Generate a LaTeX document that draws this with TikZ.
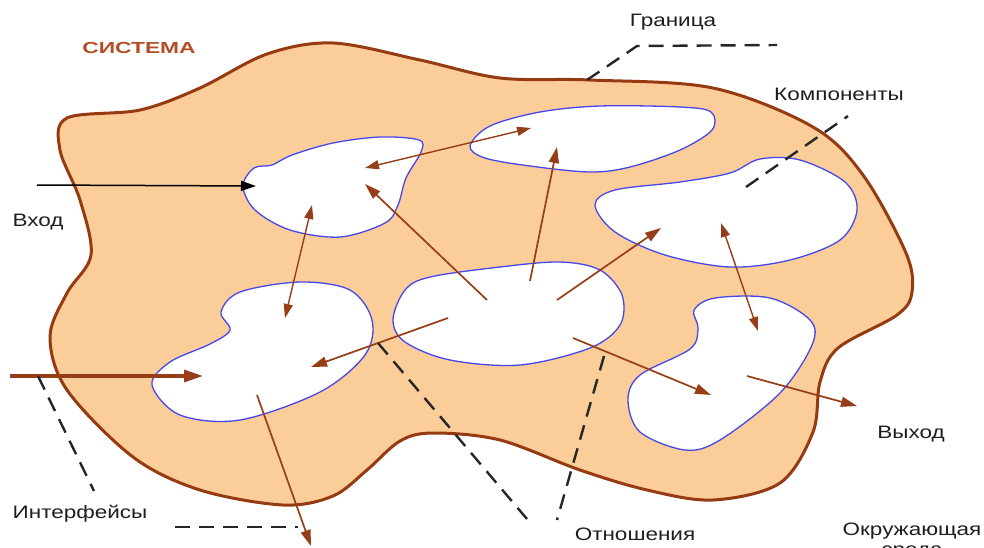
\documentclass[tikz,border=0pt]{standalone}
\usepackage{fontspec}
\setmainfont{Liberation Sans}
\usetikzlibrary{arrows.meta}
\definecolor{peach}{RGB}{251,205,152}
\definecolor{sysbrown}{RGB}{150,58,18}
\definecolor{arrbrown}{RGB}{150,62,24}
\definecolor{blobblue}{RGB}{70,70,235}
\definecolor{titlecol}{RGB}{180,78,40}
\definecolor{txt}{RGB}{30,30,30}
\begin{document}
\begin{tikzpicture}[x=1pt,y=-1pt,
  sysline/.style={draw=sysbrown,line width=3pt,fill=peach},
  blob/.style={draw=blobblue,line width=1.3pt,fill=white},
  rel/.style={draw=arrbrown,line width=1.7pt,-{Triangle[length=16pt,width=10pt]}},
  relboth/.style={draw=arrbrown,line width=1.4pt,{Triangle[length=14pt,width=9pt]}-{Triangle[length=14pt,width=9pt]}},
  thickin/.style={draw=arrbrown,line width=3.2pt,-{Triangle[length=19pt,width=12pt]}},
  blackin/.style={draw=black,line width=1.5pt,-{Triangle[length=15pt,width=10pt]}},
  lead/.style={draw=black!85,line width=2.4pt,dash pattern=on 15pt off 9pt},
  lbl/.style={text=txt,font=\fontsize{18}{20}\selectfont,xscale=1.25,inner sep=0pt}
]
\useasboundingbox (0,0) rectangle (984,547);
\clip (0,0) rectangle (984,547);

% system boundary
\path[sysline] plot[smooth cycle,tension=0.55] coordinates {
 (67,118) (140,110) (200,88) (267,54) (333,43) (420,60) (500,78) (590,80)
 (713,88) (813,127) (863,175) (906,253) (912,292) (897,315) (838,348)
 (820,382) (813,432) (780,483) (713,500) (647,490) (580,470) (500,440)
 (433,433) (400,441) (367,470) (333,496) (283,505) (200,490) (133,457)
 (67,390) (50,337) (67,293) (91,255) (80,200) (60,150)};

% components
\path[blob] plot[smooth cycle,tension=0.55] coordinates {
 (243,186) (254,168) (272,165) (292,155) (333,143) (380,137) (419,140)
 (421,152) (406,178) (398,205) (385,223) (340,237) (290,230) (255,210)};
\path[blob] plot[smooth cycle,tension=0.55] coordinates {
 (470,146) (490,126) (540,112) (600,106) (680,107) (711,112) (712,130)
 (680,150) (630,167) (590,172) (530,166) (485,158)};
\path[blob] plot[smooth cycle,tension=0.55] coordinates {
 (595,205) (615,190) (680,182) (730,173) (760,159) (800,160) (845,182)
 (857,210) (840,240) (790,260) (730,267) (665,255) (615,232)};
\path[blob] plot[smooth cycle,tension=0.55] coordinates {
 (152,385) (170,362) (210,344) (230,330) (221,312) (240,292) (300,282)
 (350,290) (372,320) (365,355) (320,392) (240,420) (180,415)};
\path[blob] plot[smooth cycle,tension=0.55] coordinates {
 (393,320) (405,290) (430,277) (500,267) (560,262) (600,270) (622,295)
 (620,325) (590,348) (520,365) (450,360) (405,342)};
\path[blob] plot[smooth cycle,tension=0.55] coordinates {
 (628,400) (640,375) (690,349) (698,328) (694,310) (715,298) (770,298)
 (810,320) (812,345) (780,393) (720,440) (685,450) (640,432)};

% coordinates for connectors
\coordinate (inA0) at (37,185);   \coordinate (inA1) at (256,186);
\coordinate (inD0) at (10,376);   \coordinate (inD1) at (203,376);
\coordinate (ab0) at (365,168);   \coordinate (ab1) at (531,128);
\coordinate (ad0) at (312,205);   \coordinate (ad1) at (285,318);
\coordinate (ea0) at (487,300);   \coordinate (ea1) at (365,184);
\coordinate (eb0) at (530,281);   \coordinate (eb1) at (557,147);
\coordinate (ec0) at (557,300);   \coordinate (ec1) at (661,228);
\coordinate (cf0) at (721,223);   \coordinate (cf1) at (758,331);
\coordinate (ed0) at (448,318);   \coordinate (ed1) at (311,367);
\coordinate (ef0) at (573,338);   \coordinate (ef1) at (711,395);
\coordinate (fo0) at (747,376);   \coordinate (fo1) at (857,406);
\coordinate (dd0) at (257,395);   \coordinate (dd1) at (311,546);

% relations / arrows
\draw[blackin] (inA0) -- (inA1);
\draw[thickin] (inD0) -- (inD1);
\draw[relboth] (ab0) -- (ab1);
\draw[relboth] (ad0) -- (ad1);
\draw[rel] (ea0) -- (ea1);
\draw[rel] (eb0) -- (eb1);
\draw[rel] (ec0) -- (ec1);
\draw[relboth] (cf0) -- (cf1);
\draw[rel] (ed0) -- (ed1);
\draw[rel] (ef0) -- (ef1);
\draw[rel] (fo0) -- (fo1);
\draw[rel] (dd0) -- (dd1);

% leader lines
\coordinate (g0) at (587,80);  \coordinate (g1) at (637,46);  \coordinate (g2) at (777,45);
\coordinate (k0) at (746,187); \coordinate (k1) at (848,116);
\coordinate (i0) at (38,376);  \coordinate (i1) at (94,491);
\coordinate (i2) at (175,527); \coordinate (i3) at (298,527);
\coordinate (o0) at (378,343); \coordinate (o1) at (527,519);
\coordinate (o2) at (604,356); \coordinate (o3) at (557,520);
\draw[lead] (g0) -- (g1) -- (g2);
\draw[lead] (k0) -- (k1);
\draw[lead] (i0) -- (i1);
\draw[lead] (i2) -- (i3);
\draw[lead] (o0) -- (o1);
\draw[lead] (o2) -- (o3);

% labels
\node[lbl,text=titlecol,font=\fontsize{16}{18}\selectfont\bfseries,xscale=1.14] (sys) at (139,48) {СИСТЕМА};
\node[lbl] (gr) at (673,22) {Граница};
\node[lbl] (komp) at (839,94) {Компоненты};
\node[lbl] (vh) at (38,222) {Вход};
\node[lbl] (intf) at (80,514) {Интерфейсы};
\node[lbl] (otn) at (635,534) {Отношения};
\node[lbl] (vyh) at (911,434) {Выход};
\node[lbl] (okr) at (912,531) {Окружающая};
\node[lbl] (sreda) at (912,553) {среда};
\end{tikzpicture}
\end{document}
